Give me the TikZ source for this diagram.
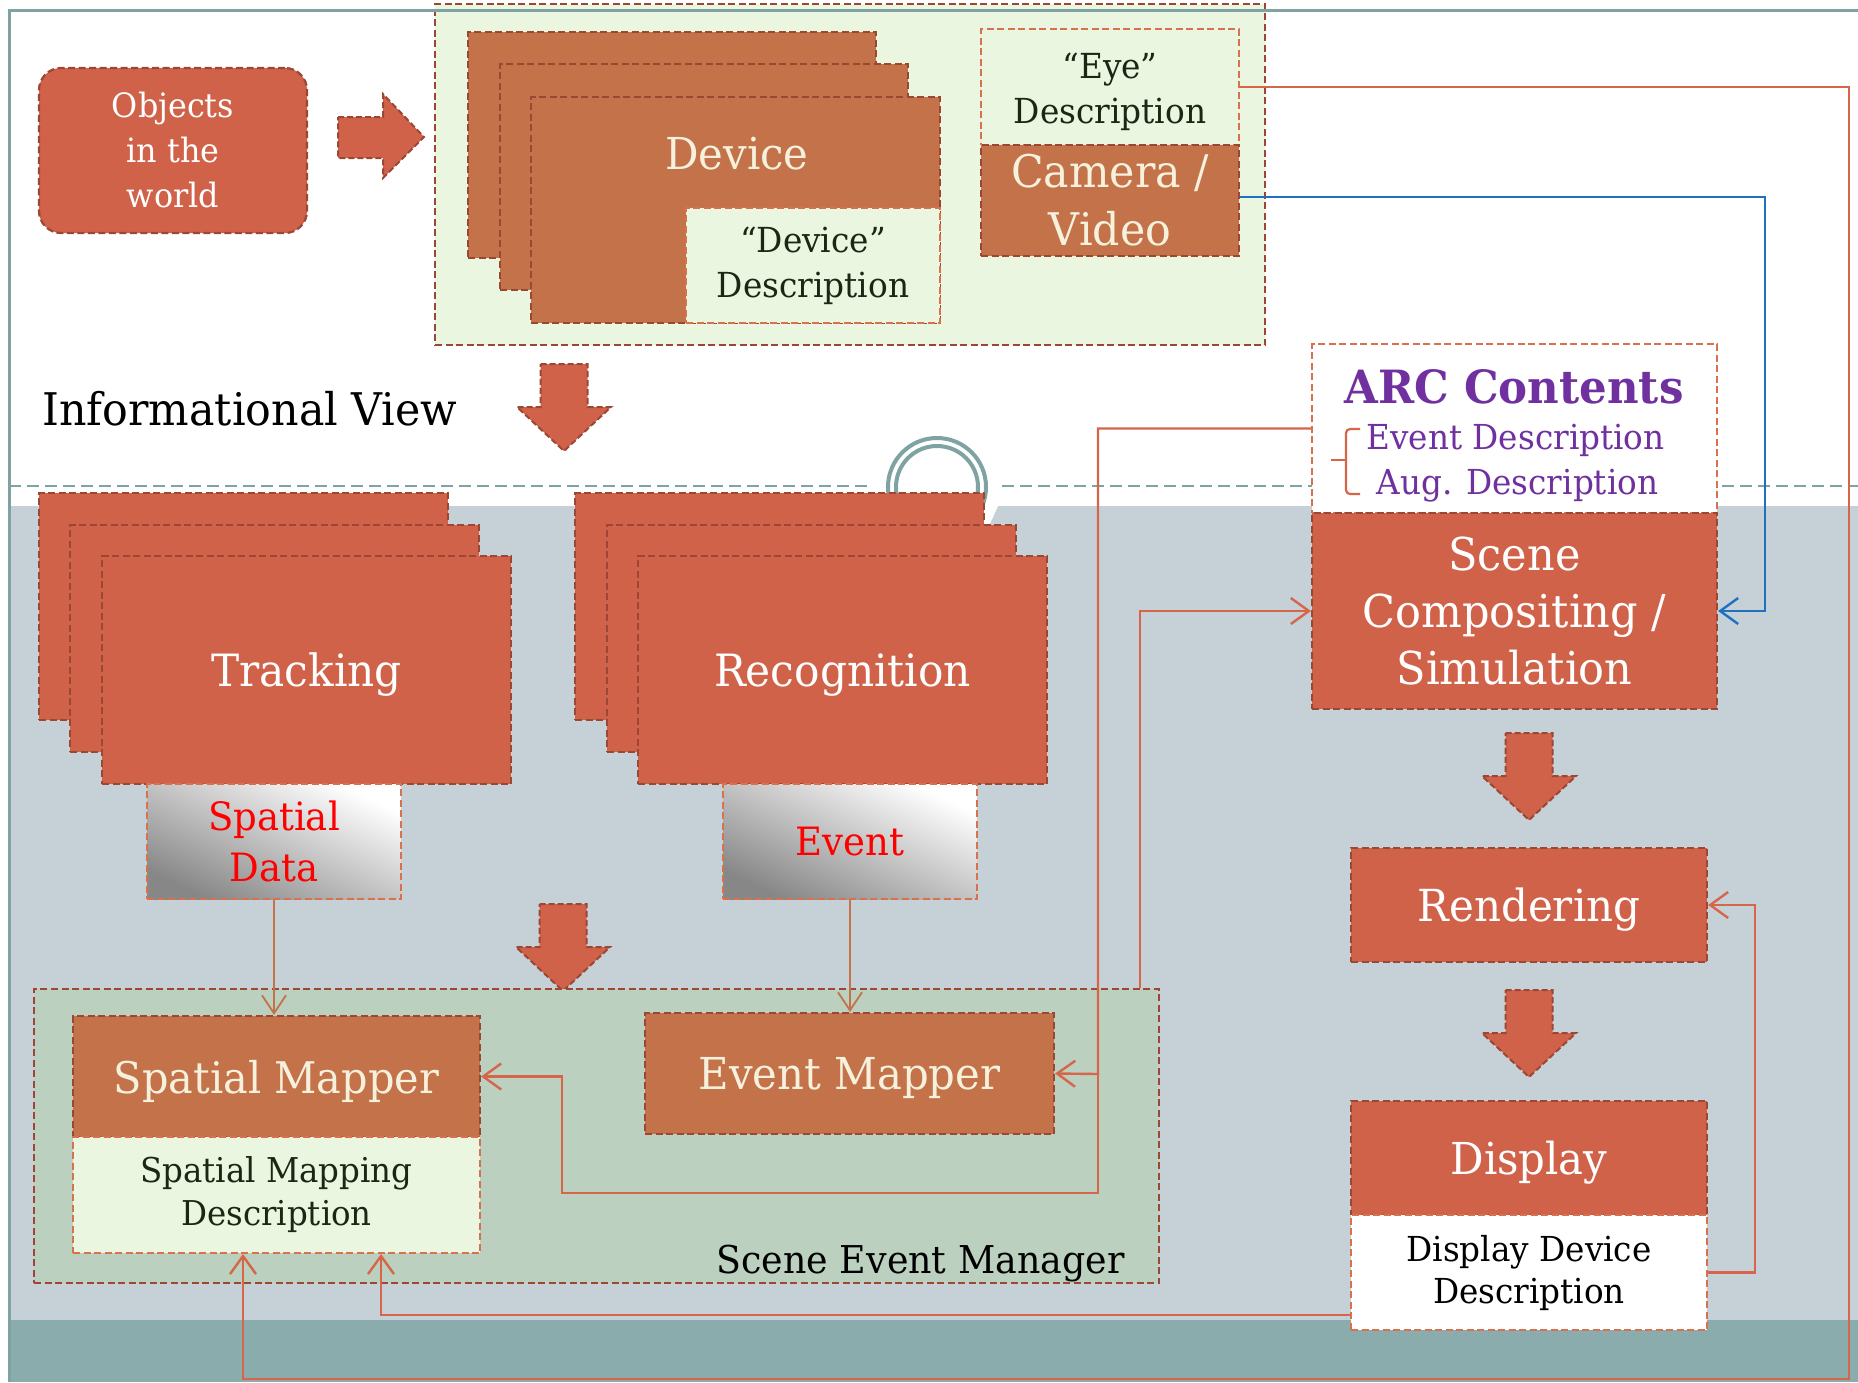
\documentclass[tikz,border=0pt]{standalone}
\usepackage{fontspec}
\setmainfont{DejaVu Serif}[FakeStretch=0.95]
\usetikzlibrary{arrows.meta}

\definecolor{coral}{HTML}{D0624A}
\definecolor{sienna}{HTML}{C4724A}
\definecolor{edgedark}{HTML}{9C4634}
\definecolor{mint}{HTML}{EBF6E1}
\definecolor{sage}{HTML}{BBD0BF}
\definecolor{slate}{HTML}{C6D1D7}
\definecolor{bandteal}{HTML}{8AACAC}
\definecolor{framegray}{HTML}{7FA2A2}
\definecolor{wirered}{HTML}{D6654A}
\definecolor{wireblue}{HTML}{1E70C0}
\definecolor{cream}{HTML}{F6F1DC}
\definecolor{ink}{HTML}{1C2614}
\definecolor{arcpurple}{HTML}{7030A0}
\definecolor{descedge}{HTML}{D9714E}

\newcommand\fsz[2]{\fontsize{#1}{#2}\selectfont}
% block arrow pointing down: centre x, top of shaft
\newcommand\downblock[2]{%
  \draw[blockarrow] ({#1-23.5},#2) -- ({#1+23.5},#2) -- ({#1+23.5},{#2+43})
    -- ({#1+47},{#2+43}) -- (#1,{#2+87}) -- ({#1-47},{#2+43})
    -- ({#1-23.5},{#2+43}) -- cycle;}

\begin{document}
\begin{tikzpicture}[x=1pt,y=-1pt,
  wh/.style 2 args={minimum width=#1pt,minimum height=#2pt},
  card/.style={draw=edgedark,line width=2.2pt,dash pattern=on 7pt off 3.5pt,inner sep=0pt},
  coralcard/.style={card,fill=coral,text=white},
  siennacard/.style={card,fill=sienna,text=cream},
  desccard/.style={draw=descedge,line width=2pt,dash pattern=on 7pt off 3.5pt,inner sep=0pt,text=ink},
  datacard/.style={desccard,top color=white,bottom color=black!47,shading angle=-25,text=red},
  blockarrow/.style={fill=coral,draw=edgedark,line width=2pt,dash pattern=on 6pt off 3pt},
  wire/.style={draw=wirered,line width=2.4pt,-{Straight Barb[length=18pt,width=26pt]}},
  thinwire/.style={draw=sienna,line width=1.8pt,-{Straight Barb[length=18pt,width=24pt]}},
  bluewire/.style={draw=wireblue,line width=2.4pt,-{Straight Barb[length=18pt,width=26pt]}},
  one/.style={align=center,text depth=0pt},
  multi/.style={align=center}
]
\useasboundingbox (0,0) rectangle (1858,1382);
\fill[white] (0,0) rectangle (1858,1382);

% background bands
\fill[slate] (10,506) rectangle (1858,1320);
\fill[bandteal] (10,1320) rectangle (1858,1382);
\fill[white] (984,506) -- (998,506) -- (989,526) -- (984,526) -- cycle;

% section divider with its ring
\draw[framegray,line width=2.5pt,dash pattern=on 12pt off 6pt]
  (9,486) -- (872,486) (1002,486) -- (1858,486);
\draw[framegray,line width=4pt] (937,487) circle[radius=49pt];
\draw[framegray,line width=4pt] (937,487) circle[radius=41pt];

% sensing panel
\node[card,fill=mint,wh={830}{341}] (panel) at (850,174.5) {};
\draw[framegray,line width=3pt] (9,1382) -- (9,10) -- (1858,10);

% objects and arrow into the sensing panel
\node[card,fill=coral,text=white,rounded corners=22pt,multi,font=\fsz{33.5}{45},
  wh={268}{165}] (objects) at (173,150.5) {Objects\\in the\\world};
\draw[blockarrow] (338,117) -- (383,117) -- (383,94) -- (424,137) -- (383,178)
  -- (383,158) -- (338,158) -- cycle;

% device stack
\node[siennacard,wh={408}{226}] (dev3) at (672,145) {};
\node[siennacard,wh={408}{226}] (dev2) at (704,177) {};
\node[siennacard,wh={409}{226}] (dev1) at (735.5,210) {};
\node[text=cream,font=\fsz{44}{54},anchor=base] (devlabel) at (737,169) {Device};
\node[desccard,fill=mint,multi,font=\fsz{34.5}{45},wh={254}{115}] (devdesc) at (813,265.5)
  {``Device''\\Description};

% eye / camera
\node[desccard,fill=mint,wh={258}{116}] (eye) at (1110,87) {};
\node[text=ink,multi,font=\fsz{34.5}{45}] (eyetext) at (1110,92) {``Eye''\\Description};
\node[siennacard,multi,font=\fsz{45}{58},wh={258}{111}] (cam) at (1110,200.5)
  {Camera /\\Video};

\downblock{564}{364}

\node[anchor=base west,font=\fsz{45}{54}] (infoview) at (39,425) {Informational View};

% tracking stack
\node[coralcard,wh={409}{227}] (trk3) at (243.5,606.5) {};
\node[coralcard,wh={409}{227}] (trk2) at (274.5,638.5) {};
\node[coralcard,one,font=\fsz{44.5}{54},wh={409}{228}] (trk1) at (306.5,670) {Tracking};
\node[datacard,multi,font=\fsz{39}{51},wh={254}{115}] (sdata) at (274,841.5) {Spatial\\Data};

% recognition stack
\node[coralcard,wh={409}{227}] (rec3) at (779.5,606.5) {};
\node[coralcard,wh={409}{227}] (rec2) at (811.5,638.5) {};
\node[coralcard,one,font=\fsz{44.5}{54},wh={409}{228}] (rec1) at (842.5,670) {Recognition};
\node[datacard,one,font=\fsz{39}{48},wh={254}{115}] (evt) at (850,841.5) {Event};

\downblock{563}{904}

% scene event manager
\node[card,fill=sage,wh={1125}{294}] (sem) at (596.5,1136) {};
\node[anchor=base east,font=\fsz{38.3}{46}] (semlabel) at (1128,1273) {Scene Event Manager};
\node[siennacard,one,font=\fsz{43.6}{52},wh={407}{121}] (spm) at (276.5,1076.5) {Spatial Mapper};
\node[desccard,fill=mint,multi,font=\fsz{34.2}{43},wh={407}{116}] (smd) at (276.5,1195)
  {Spatial Mapping\\Description};
\node[siennacard,one,font=\fsz{44}{52},wh={409}{121}] (evm) at (849.5,1073.5) {Event Mapper};

% ARC contents and scene compositing
\node[desccard,fill=white,wh={405}{169}] (arcbox) at (1514.5,428.5) {};
\node[text=arcpurple,font=\bfseries\fsz{45.8}{54},anchor=base] (arctitle) at (1514,403) {ARC Contents};
\node[text=arcpurple,font=\fsz{34.4}{40},anchor=base west] (arcev) at (1363,449) {Event Description};
\node[text=arcpurple,font=\fsz{34.4}{40},anchor=base west] (arcaug) at (1373,494) {Aug. Description};
\draw[wirered,line width=2.2pt,rounded corners=4pt]
  (1360,429) -- (1346,429) -- (1346,494) -- (1360,494);
\draw[wirered,line width=2.2pt] (1346,460) -- (1331,460);
\node[coralcard,multi,font=\fsz{45.3}{57},wh={405}{196}] (scene) at (1514.5,611)
  {Scene\\Compositing /\\Simulation};

\downblock{1529}{733}
\node[coralcard,one,font=\fsz{44.2}{54},wh={356}{114}] (rend) at (1529,905) {Rendering};
\downblock{1529}{990}
\node[coralcard,one,font=\fsz{44}{54},wh={356}{114}] (disp) at (1529,1158) {Display};
\node[desccard,fill=white,text=black,multi,font=\fsz{34.4}{42},wh={356}{115}] (ddesc) at (1529,1272.5)
  {Display Device\\Description};

% connectors
\coordinate (split) at (1098,1074);
\draw[wire] (eye.east) -- (1849,87) -- (1849,1379) -- (243,1379) -- ([xshift=-33.5pt]smd.south);
\draw[bluewire] ([yshift=3.5pt]cam.east) -- (1765,197) -- (1765,611) -- (scene.east);
\draw[wire] (arcbox.west) -- (1098,428.5) -- (split) -- (evm.east);
\draw[wire] (split) -- (1098,1193) -- (562,1193) -- (562,1076.5) -- (spm.east);
\draw[wire] ([xshift=543.5pt]sem.north) -- (1140,611) -- (scene.west);
\draw[thinwire] (sdata.south) -- (sdata.south |- spm.north);
\draw[thinwire] (evt.south) -- (evt.south |- evm.north);
\draw[wire] (ddesc.east) -- (1755,1272.5) -- (1755,905) -- (rend.east);
\draw[wire] ([yshift=-42.5pt]ddesc.west) -- (381,1315) -- ([xshift=104.5pt]smd.south);
\end{tikzpicture}
\end{document}
